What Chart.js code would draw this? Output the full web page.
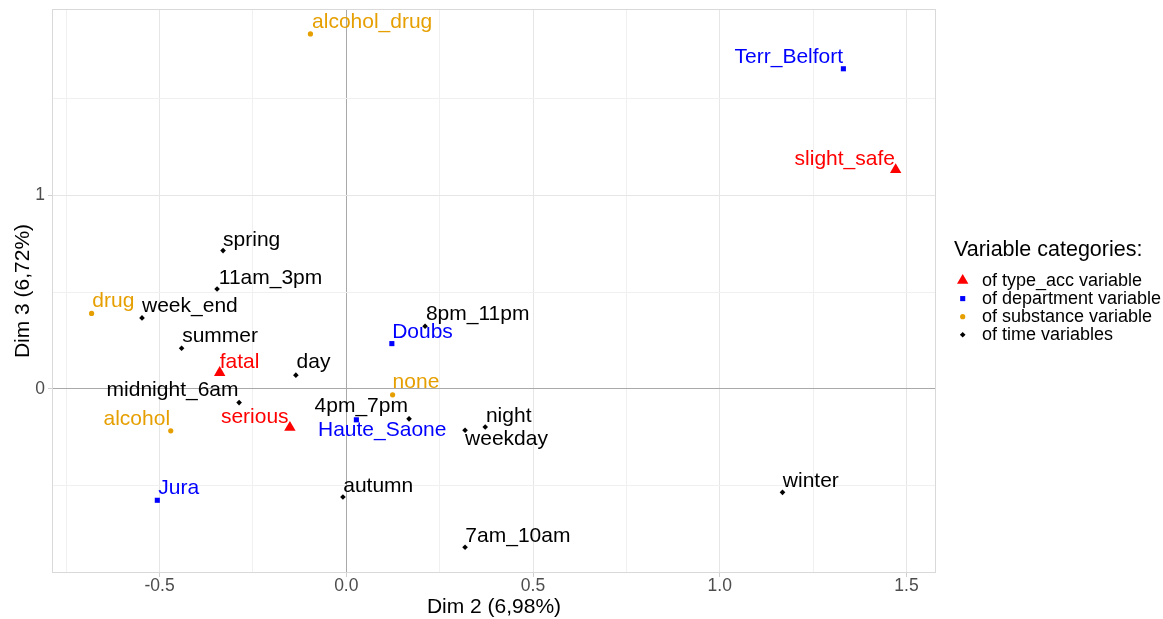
<!DOCTYPE html>
<html>
<head>
<meta charset="utf-8">
<script src="https://cdn.jsdelivr.net/npm/chart.js@4.4.0/dist/chart.umd.min.js"></script>
<style>
  html, body { margin: 0; padding: 0; background: #ffffff; }
  canvas { display: block; }
</style>
</head>
<body>
<canvas id="mca" width="1163" height="619"></canvas>
<script>
// Category coordinates on dimensions 2 and 3
const typeAccCats = ['fatal', 'serious', 'slight_safe'];
const typeAccDim2 = [-0.339, -0.151, 1.471];
const typeAccDim3 = [0.084, -0.200, 1.133];

const departmentCats = ['Terr_Belfort', 'Doubs', 'Haute_Saone', 'Jura'];
const departmentDim2 = [1.331, 0.122, 0.027, -0.506];
const departmentDim3 = [1.655, 0.234, -0.160, -0.576];

const substanceCats = ['alcohol_drug', 'drug', 'alcohol', 'none'];
const substanceDim2 = [-0.096, -0.682, -0.470, 0.124];
const substanceDim3 = [1.835, 0.390, -0.217, -0.031];

const timeCats = ['spring', '11am_3pm', 'week_end', 'summer', 'day', 'midnight_6am',
                  '8pm_11pm', '4pm_7pm', 'night', 'weekday', 'autumn', 'winter', '7am_10am'];
const timeDim2 = [-0.330, -0.346, -0.547, -0.441, -0.135, -0.287,
                  0.211, 0.168, 0.372, 0.318, -0.009, 1.168, 0.318];
const timeDim3 = [0.715, 0.516, 0.367, 0.210, 0.071, -0.071,
                  0.324, -0.155, -0.197, -0.214, -0.559, -0.535, -0.819];

const xMajorTicks = [-0.5, 0, 0.5, 1, 1.5];
const xMinorTicks = [-0.75, -0.25, 0.25, 0.75, 1.25];
const yMajorTicks = [0, 1];
const yMinorTicks = [-0.5, 0.5, 1.5];

const xTitle = 'Dim 2 (6,98%)';
const yTitle = 'Dim 3 (6,72%)';
const legendTitle = 'Variable categories:';
const legendLabels = ['of type_acc variable', 'of department variable',
                      'of substance variable', 'of time variables'];

// Text placement next to each point: [dx, dy (baseline), align] in pixels
const labelNudge = {
  fatal: [0, -5, 'left'], serious: [-1.3, -5, 'right'], slight_safe: [-0.7, -4.3, 'right'],
  Terr_Belfort: [-0.3, -5.7, 'right'], Doubs: [0.3, -5.4, 'left'],
  Haute_Saone: [-38.4, 15.7, 'left'], Jura: [1, -6, 'left'],
  alcohol_drug: [1.6, -6, 'left'], drug: [0.7, -6, 'left'],
  alcohol: [-0.7, -5.7, 'right'], none: [0, -6.6, 'left'],
  spring: [0, -5, 'left'], '11am_3pm': [1.7, -5.3, 'left'], week_end: [0, -6.3, 'left'],
  summer: [0.6, -6.3, 'left'], day: [0.7, -7, 'left'], midnight_6am: [-0.6, -7, 'right'],
  '8pm_11pm': [0.8, -6.3, 'left'], '4pm_7pm': [-1.1, -6.7, 'right'],
  night: [0.7, -5.3, 'left'], weekday: [0, 14.7, 'left'], autumn: [0.3, -5.3, 'left'],
  winter: [0.3, -5.6, 'left'], '7am_10am': [0.3, -5.6, 'left']
};

const FONT = '"Liberation Sans", Arial, Helvetica, sans-serif';

function toPoints(xs, ys) { return xs.map((x, i) => ({ x: x, y: ys[i] })); }

const groups = [
  { cats: typeAccCats, xs: typeAccDim2, ys: typeAccDim3, color: '#FF0000', style: 'triangle', radius: 6.6 },
  { cats: departmentCats, xs: departmentDim2, ys: departmentDim3, color: '#0000FF', style: 'rect', radius: 3.6 },
  { cats: substanceCats, xs: substanceDim2, ys: substanceDim3, color: '#E69F00', style: 'circle', radius: 2.6 },
  { cats: timeCats, xs: timeDim2, ys: timeDim3, color: '#000000', style: 'rectRot', radius: 2.8 }
];

const datasets = groups.map((g, i) => ({
  label: legendLabels[i],
  categories: g.cats,
  data: toPoints(g.xs, g.ys),
  pointStyle: g.style,
  pointRadius: g.radius,
  pointHoverRadius: g.radius,
  backgroundColor: g.color,
  borderColor: g.color,
  borderWidth: 0,
  labelColor: g.color
}));

function gridColor(ctx, majors) {
  const v = ctx.tick ? ctx.tick.value : null;
  if (v === 0) return '#A9A9A9';
  return majors.includes(v) ? '#E6E6E6' : '#F0F0F0';
}

function tickMarkColor(ctx, majors) {
  const v = ctx.tick ? ctx.tick.value : null;
  return majors.includes(v) ? '#D0D0D0' : 'rgba(0,0,0,0)';
}

function zeroPad(scale) {
  scale.paddingTop = 0; scale.paddingBottom = 0;
  scale.paddingLeft = 0; scale.paddingRight = 0;
}

// Panel border around the plotting region
const panelBorder = {
  id: 'panelBorder',
  afterDatasetsDraw(chart) {
    const { ctx, chartArea: a } = chart;
    ctx.save();
    ctx.strokeStyle = '#D9D9D9';
    ctx.lineWidth = 1;
    ctx.strokeRect(Math.round(a.left) + 0.5, Math.round(a.top) + 0.5,
                   Math.round(a.right - a.left) - 1, Math.round(a.bottom - a.top) - 1);
    ctx.restore();
  }
};

// Category names written beside their points
const pointLabels = {
  id: 'pointLabels',
  afterDatasetsDraw(chart) {
    const ctx = chart.ctx;
    ctx.save();
    ctx.font = '21px ' + FONT;
    ctx.textBaseline = 'alphabetic';
    chart.data.datasets.forEach((ds, di) => {
      const meta = chart.getDatasetMeta(di);
      ctx.fillStyle = ds.labelColor;
      meta.data.forEach((el, i) => {
        const name = ds.categories[i];
        const n = labelNudge[name] || [0, -6, 'left'];
        ctx.textAlign = n[2];
        ctx.fillText(name, el.x + n[0], el.y + n[1]);
      });
    });
    ctx.restore();
  }
};

// Legend box at the right of the panel
const sideLegend = {
  id: 'sideLegend',
  afterDraw(chart) {
    const ctx = chart.ctx;
    const x0 = chart.chartArea.right + 18;
    ctx.save();
    ctx.fillStyle = '#000000';
    ctx.textAlign = 'left';
    ctx.textBaseline = 'alphabetic';
    ctx.font = '21.5px ' + FONT;
    ctx.fillText(legendTitle, x0, 256);
    ctx.font = '18px ' + FONT;
    chart.data.datasets.forEach((ds, i) => {
      const cy = 280.5 + i * 18.1;
      ctx.fillStyle = ds.backgroundColor;
      Chart.helpers.drawPoint(ctx, {
        pointStyle: ds.pointStyle, radius: ds.pointRadius, rotation: 0, borderWidth: 0
      }, x0 + 8.7, cy);
      ctx.fillStyle = '#000000';
      ctx.fillText(ds.label, x0 + 28, cy + 5.5);
    });
    ctx.restore();
  }
};

new Chart(document.getElementById('mca'), {
  type: 'scatter',
  data: { datasets: datasets },
  plugins: [panelBorder, pointLabels, sideLegend],
  options: {
    responsive: false,
    animation: false,
    devicePixelRatio: 1,
    layout: { padding: { left: 0, top: 9, right: 227, bottom: 0 } },
    plugins: {
      legend: { display: false },
      tooltip: { enabled: false }
    },
    scales: {
      x: {
        type: 'linear',
        min: -0.788,
        max: 1.579,
        afterBuildTicks(scale) {
          scale.ticks = xMajorTicks.concat(xMinorTicks).sort((a, b) => a - b).map(v => ({ value: v }));
        },
        afterFit(scale) { scale.height = 46; zeroPad(scale); },
        border: { display: false },
        grid: {
          color: ctx => gridColor(ctx, xMajorTicks),
          tickColor: ctx => tickMarkColor(ctx, xMajorTicks),
          lineWidth: 1,
          drawTicks: true,
          tickLength: 4
        },
        ticks: {
          autoSkip: false,
          maxRotation: 0,
          padding: 0,
          color: '#4D4D4D',
          font: { family: FONT, size: 17.5, lineHeight: 1 },
          callback: v => xMajorTicks.includes(v) ? v.toFixed(1) : ''
        },
        title: {
          display: true,
          text: xTitle,
          color: '#000000',
          font: { family: FONT, size: 21, lineHeight: 1 },
          padding: { top: 0, bottom: 1 }
        }
      },
      y: {
        type: 'linear',
        min: -0.952,
        max: 1.964,
        afterBuildTicks(scale) {
          scale.ticks = yMajorTicks.concat(yMinorTicks).sort((a, b) => a - b).map(v => ({ value: v }));
        },
        afterFit(scale) { scale.width = 52; zeroPad(scale); },
        border: { display: false },
        grid: {
          color: ctx => gridColor(ctx, yMajorTicks),
          tickColor: ctx => tickMarkColor(ctx, yMajorTicks),
          lineWidth: 1,
          drawTicks: true,
          tickLength: 4
        },
        ticks: {
          autoSkip: false,
          padding: 3,
          color: '#4D4D4D',
          font: { family: FONT, size: 17.5, lineHeight: 1 },
          callback: v => yMajorTicks.includes(v) ? String(v) : ''
        },
        title: {
          display: true,
          text: yTitle,
          color: '#000000',
          font: { family: FONT, size: 21, lineHeight: 1 },
          padding: { top: 12.5, bottom: 0 }
        }
      }
    }
  }
});
</script>
</body>
</html>
